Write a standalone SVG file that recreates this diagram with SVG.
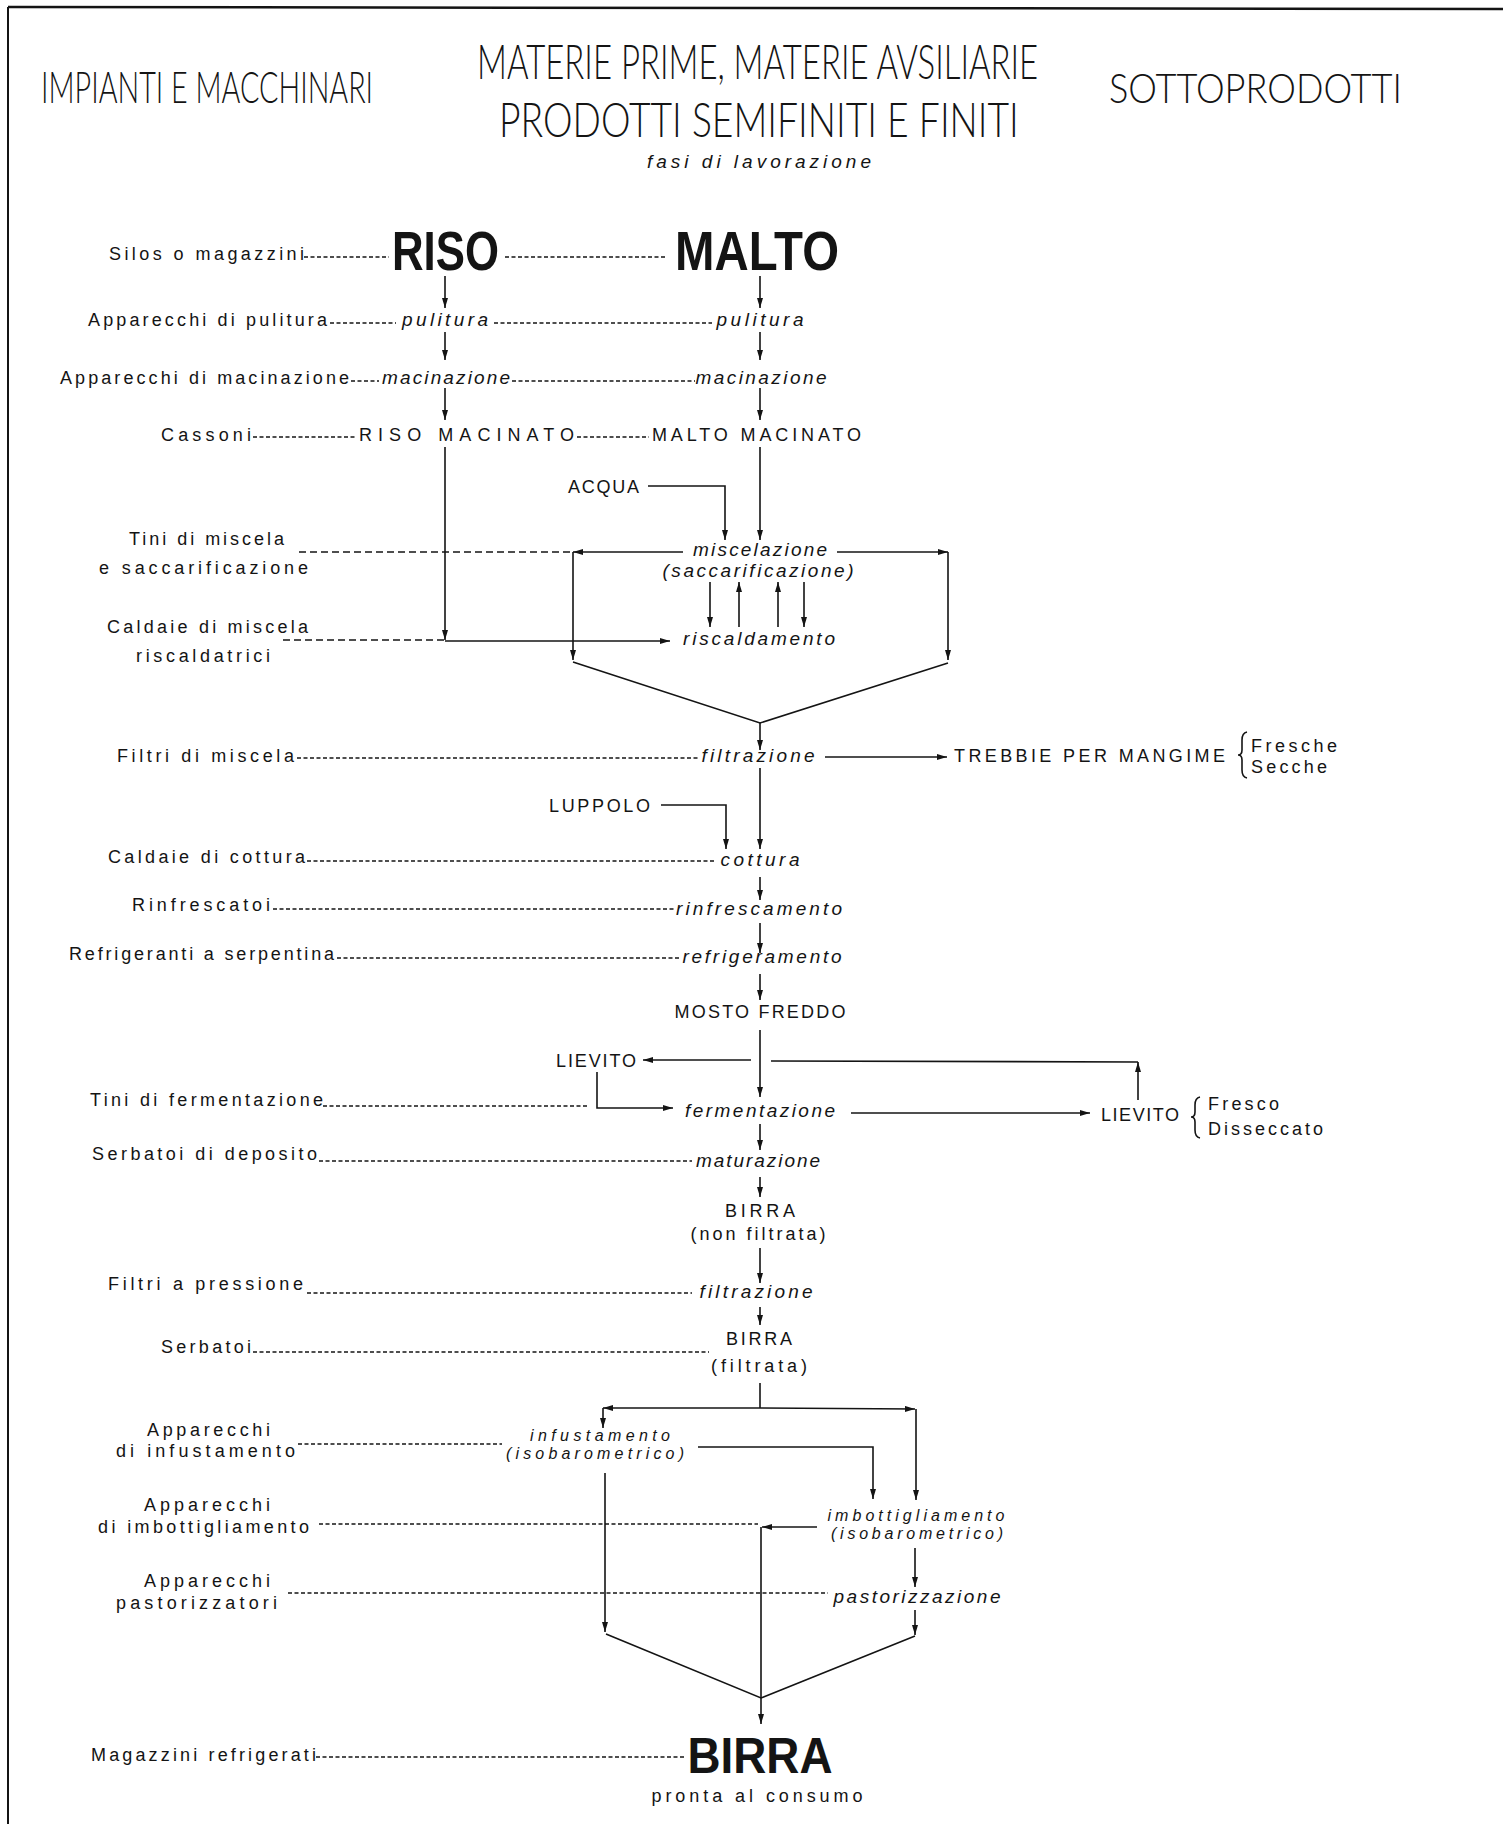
<svg xmlns="http://www.w3.org/2000/svg" width="1503" height="1824" viewBox="0 0 1503 1824">
<style>
text{font-family:"Liberation Sans",Arial,sans-serif;fill:#141414}
.h{font-family:Lato,"DejaVu Sans",sans-serif;font-weight:300}
.b{font-size:18px}
.i{font-size:19px;font-style:italic}
.p{font-size:16px;font-style:italic}
.c{font-size:18px}
.big{font-size:56px}
.m{text-anchor:middle}
.ln{stroke:#141414;stroke-width:1.6;fill:none}
.ar{stroke:#141414;stroke-width:1.6;fill:none;marker-end:url(#ah)}
.dt{stroke:#141414;stroke-width:1.4;fill:none;stroke-dasharray:4 2.5}
.ds{stroke:#141414;stroke-width:1.5;fill:none;stroke-dasharray:7 4}
</style>
<defs>
<marker id="ah" viewBox="0 0 10 6" refX="10" refY="3" markerWidth="10" markerHeight="6" markerUnits="userSpaceOnUse" orient="auto"><path d="M0,0 L10,3 L0,6 z" fill="#141414"/></marker>
</defs>
<rect width="1503" height="1824" fill="#ffffff"/>
<g id="frame">
<line x1="8" y1="7" x2="1503" y2="9" stroke="#141414" stroke-width="2.5"/>
<line x1="8" y1="7" x2="8" y2="1824" stroke="#141414" stroke-width="2"/>
</g>
<g id="header">
<text id="h-impianti" class="h" transform="translate(41,103) scale(0.635,1)" x="0" y="0" font-size="43" textLength="523" lengthAdjust="spacingAndGlyphs">IMPIANTI E MACCHINARI</text>
<text id="h-materie" class="h" transform="translate(477,79) scale(0.637,1)" x="0" y="0" font-size="47" textLength="881" lengthAdjust="spacingAndGlyphs">MATERIE PRIME, MATERIE AVSILIARIE</text>
<text id="h-prodotti" class="h" transform="translate(499,137) scale(0.833,1)" x="0" y="0" font-size="47" textLength="624" lengthAdjust="spacingAndGlyphs">PRODOTTI SEMIFINITI E FINITI</text>
<text id="h-sotto" class="h" transform="translate(1109,103) scale(0.904,1)" x="0" y="0" font-size="42" textLength="324" lengthAdjust="spacingAndGlyphs">SOTTOPRODOTTI</text>
<text id="h-fasi" class="i" x="647" y="168" font-size="17" textLength="224">fasi di lavorazione</text>
</g>
<g id="impianti">
<text class="b" x="109" y="260" textLength="195">Silos o magazzini</text>
<text class="b" x="88" y="326" textLength="239">Apparecchi di pulitura</text>
<text class="b" x="60" y="384" textLength="289">Apparecchi di macinazione</text>
<text class="b" x="161" y="441" textLength="90">Cassoni</text>
<text class="b" x="129" y="545" textLength="155">Tini di miscela</text>
<text class="b" x="99" y="574" textLength="209">e saccarificazione</text>
<text class="b" x="107" y="633" textLength="201">Caldaie di miscela</text>
<text class="b" x="136" y="662" textLength="134">riscaldatrici</text>
<text class="b" x="117" y="762" textLength="177">Filtri di miscela</text>
<text class="b" x="108" y="863" textLength="197">Caldaie di cottura</text>
<text class="b" x="132" y="911" textLength="138">Rinfrescatoi</text>
<text class="b" x="69" y="960" textLength="265">Refrigeranti a serpentina</text>
<text class="b" x="90" y="1106" textLength="233">Tini di fermentazione</text>
<text class="b" x="92" y="1160" textLength="225">Serbatoi di deposito</text>
<text class="b" x="108" y="1290" textLength="195">Filtri a pressione</text>
<text class="b" x="161" y="1353" textLength="90">Serbatoi</text>
<text class="b" x="147" y="1436" textLength="123">Apparecchi</text>
<text class="b" x="116" y="1457" textLength="179">di infustamento</text>
<text class="b" x="144" y="1511" textLength="126">Apparecchi</text>
<text class="b" x="98" y="1533" textLength="211">di imbottigliamento</text>
<text class="b" x="144" y="1587" textLength="126">Apparecchi</text>
<text class="b" x="116" y="1609" textLength="161">pastorizzatori</text>
<text class="b" x="91" y="1761" textLength="225">Magazzini refrigerati</text>
</g>
<g id="n-riso"><text class="big" x="392" y="270" font-weight="bold" textLength="107" lengthAdjust="spacingAndGlyphs">RISO</text></g>
<g id="n-malto"><text class="big" x="675" y="270" font-weight="bold" textLength="164" lengthAdjust="spacingAndGlyphs">MALTO</text></g>
<g id="n-pulitura-riso"><text class="i m" x="445" y="326" textLength="86">pulitura</text></g>
<g id="n-pulitura-malto"><text class="i m" x="760" y="326" textLength="87">pulitura</text></g>
<g id="n-macinazione-riso"><text class="i m" x="446" y="384" textLength="128">macinazione</text></g>
<g id="n-macinazione-malto"><text class="i m" x="761" y="384" textLength="131">macinazione</text></g>
<g id="n-riso-macinato"><text class="c" x="359" y="441" textLength="215">RISO  MACINATO</text></g>
<g id="n-malto-macinato"><text class="c" x="652" y="441" textLength="209">MALTO  MACINATO</text></g>
<g id="n-acqua"><text class="c" x="568" y="493" font-size="19" textLength="71">ACQUA</text></g>
<g id="n-miscelazione">
<text class="i m" x="760" y="556" font-size="18" textLength="134">miscelazione</text>
<text class="i m" x="758" y="577" font-size="18" textLength="191">(saccarificazione)</text>
</g>
<g id="n-riscaldamento"><text class="i m" x="759" y="645" textLength="152">riscaldamento</text></g>
<g id="n-filtrazione1"><text class="i m" x="758" y="762" textLength="113">filtrazione</text></g>
<g id="n-trebbie">
<text class="c" x="954" y="762" textLength="271">TREBBIE PER MANGIME</text>
<path class="ln" d="M1247,732 Q1242,733 1242,740 L1242,750 Q1242,755 1238,755 Q1242,755 1242,760 L1242,770 Q1242,777 1247,778"/>
<text class="b" x="1251" y="752" textLength="86">Fresche</text>
<text class="b" x="1251" y="773" textLength="76">Secche</text>
</g>
<g id="n-luppolo"><text class="c" x="549" y="812" textLength="101">LUPPOLO</text></g>
<g id="n-cottura"><text class="i m" x="760" y="866" textLength="79">cottura</text></g>
<g id="n-rinfrescamento"><text class="i m" x="759" y="915" textLength="166">rinfrescamento</text></g>
<g id="n-refrigeramento"><text class="i m" x="762" y="963" textLength="159">refrigeramento</text></g>
<g id="n-mosto"><text class="c m" x="760" y="1018" textLength="171">MOSTO FREDDO</text></g>
<g id="n-lievito-in"><text class="c" x="556" y="1067" textLength="80">LIEVITO</text></g>
<g id="n-fermentazione"><text class="i m" x="760" y="1117" textLength="150">fermentazione</text></g>
<g id="n-lievito-out">
<text class="c" x="1101" y="1121" textLength="78">LIEVITO</text>
<path class="ln" d="M1200,1097 Q1195,1098 1195,1105 L1195,1112 Q1195,1117 1191,1117 Q1195,1117 1195,1122 L1195,1130 Q1195,1137 1200,1138"/>
<text class="b" x="1208" y="1110" textLength="71">Fresco</text>
<text class="b" x="1208" y="1135" textLength="115">Disseccato</text>
</g>
<g id="n-maturazione"><text class="i m" x="758" y="1167" textLength="124">maturazione</text></g>
<g id="n-birra-nf">
<text class="c m" x="760" y="1217" textLength="70">BIRRA</text>
<text class="c m" x="758" y="1240" textLength="135">(non filtrata)</text>
</g>
<g id="n-filtrazione2"><text class="i m" x="756" y="1298" textLength="113">filtrazione</text></g>
<g id="n-birra-f">
<text class="c m" x="759" y="1345" textLength="66">BIRRA</text>
<text class="c m" x="759" y="1372" textLength="96">(filtrata)</text>
</g>
<g id="n-infustamento">
<text class="p m" x="600" y="1441" textLength="140">infustamento</text>
<text class="p m" x="595" y="1459" textLength="178">(isobarometrico)</text>
</g>
<g id="n-imbottigliamento">
<text class="p m" x="916" y="1521" textLength="177">imbottigliamento</text>
<text class="p m" x="917" y="1539" textLength="172">(isobarometrico)</text>
</g>
<g id="n-pastorizzazione"><text class="i m" x="917" y="1603" textLength="167">pastorizzazione</text></g>
<g id="n-birra-final">
<text class="m" x="760" y="1773" font-size="50" font-weight="bold" textLength="145" lengthAdjust="spacingAndGlyphs">BIRRA</text>
<text class="b m" x="757" y="1802" textLength="211">pronta al consumo</text>
</g>
<g id="connectors">
<line class="dt" x1="304" y1="257" x2="389" y2="257"/>
<line class="dt" x1="505" y1="257" x2="666" y2="257"/>
<line class="dt" x1="330" y1="323" x2="396" y2="323"/>
<line class="dt" x1="494" y1="323" x2="712" y2="323"/>
<line class="dt" x1="351" y1="381" x2="379" y2="381"/>
<line class="dt" x1="512" y1="381" x2="695" y2="381"/>
<line class="dt" x1="253" y1="437" x2="356" y2="437"/>
<line class="dt" x1="577" y1="437" x2="649" y2="437"/>
<line class="ds" x1="299" y1="552" x2="573" y2="552"/>
<line class="ds" x1="283" y1="640" x2="445" y2="640"/>
<line class="dt" x1="297" y1="758" x2="698" y2="758"/>
<line class="dt" x1="307" y1="861" x2="714" y2="861"/>
<line class="dt" x1="273" y1="909" x2="674" y2="909"/>
<line class="dt" x1="337" y1="958" x2="679" y2="958"/>
<line class="dt" x1="323" y1="1106" x2="587" y2="1106"/>
<line class="dt" x1="319" y1="1161" x2="692" y2="1161"/>
<line class="dt" x1="307" y1="1293" x2="692" y2="1293"/>
<line class="dt" x1="253" y1="1352" x2="709" y2="1352"/>
<line class="dt" x1="298" y1="1444" x2="502" y2="1444"/>
<line class="dt" x1="319" y1="1524" x2="758" y2="1524"/>
<line class="dt" x1="288" y1="1593" x2="828" y2="1593"/>
<line class="dt" x1="316" y1="1757" x2="686" y2="1757"/>
<line class="ar" x1="445" y1="276" x2="445" y2="308"/>
<line class="ar" x1="445" y1="332" x2="445" y2="360"/>
<line class="ar" x1="445" y1="388" x2="445" y2="420"/>
<line class="ar" x1="445" y1="447" x2="445" y2="640"/>
<line class="ar" x1="445" y1="641" x2="670" y2="641"/>
<line class="ar" x1="760" y1="276" x2="760" y2="308"/>
<line class="ar" x1="760" y1="332" x2="760" y2="360"/>
<line class="ar" x1="760" y1="388" x2="760" y2="420"/>
<line class="ar" x1="760" y1="447" x2="760" y2="540"/>
<path class="ar" d="M648,486 L725,486 L725,540"/>
<line class="ar" x1="683" y1="552" x2="573" y2="552"/>
<line class="ar" x1="573" y1="552" x2="573" y2="660"/>
<line class="ar" x1="837" y1="552" x2="948" y2="552"/>
<line class="ar" x1="948" y1="552" x2="948" y2="660"/>
<line class="ar" x1="710" y1="582" x2="710" y2="627"/>
<line class="ar" x1="739" y1="627" x2="739" y2="582"/>
<line class="ar" x1="778" y1="627" x2="778" y2="582"/>
<line class="ar" x1="804" y1="582" x2="804" y2="627"/>
<path class="ln" d="M573,662 L760,723 L948,663"/>
<line class="ar" x1="760" y1="723" x2="760" y2="750"/>
<line class="ar" x1="825" y1="757" x2="947" y2="757"/>
<line class="ar" x1="760" y1="768" x2="760" y2="849"/>
<path class="ar" d="M661,805 L726,805 L726,849"/>
<line class="ar" x1="760" y1="877" x2="760" y2="900"/>
<line class="ar" x1="760" y1="923" x2="760" y2="953"/>
<line class="ar" x1="760" y1="974" x2="760" y2="1000"/>
<line class="ar" x1="760" y1="1030" x2="760" y2="1097"/>
<line class="ar" x1="751" y1="1060" x2="643" y2="1060"/>
<line class="ln" x1="771" y1="1061" x2="1138" y2="1062"/>
<line class="ar" x1="1138" y1="1100" x2="1138" y2="1062"/>
<path class="ar" d="M597,1072 L597,1108 L673,1108"/>
<line class="ar" x1="851" y1="1113" x2="1090" y2="1113"/>
<line class="ar" x1="760" y1="1124" x2="760" y2="1150"/>
<line class="ar" x1="760" y1="1177" x2="760" y2="1197"/>
<line class="ar" x1="760" y1="1248" x2="760" y2="1283"/>
<line class="ar" x1="760" y1="1307" x2="760" y2="1325"/>
<line class="ln" x1="760" y1="1383" x2="760" y2="1408"/>
<line class="ar" x1="760" y1="1408" x2="603" y2="1408"/>
<line class="ar" x1="760" y1="1408" x2="915" y2="1409"/>
<line class="ar" x1="603" y1="1408" x2="603" y2="1428"/>
<line class="ar" x1="916" y1="1409" x2="916" y2="1500"/>
<path class="ar" d="M698,1447 L873,1447 L873,1499"/>
<line class="ar" x1="605" y1="1473" x2="605" y2="1632"/>
<line class="ar" x1="817" y1="1527" x2="762" y2="1527"/>
<line class="ar" x1="761" y1="1527" x2="761" y2="1724"/>
<line class="ar" x1="915" y1="1548" x2="915" y2="1587"/>
<line class="ar" x1="915" y1="1610" x2="915" y2="1635"/>
<path class="ln" d="M606,1634 L761,1698 L915,1636"/>
</g>
</svg>
